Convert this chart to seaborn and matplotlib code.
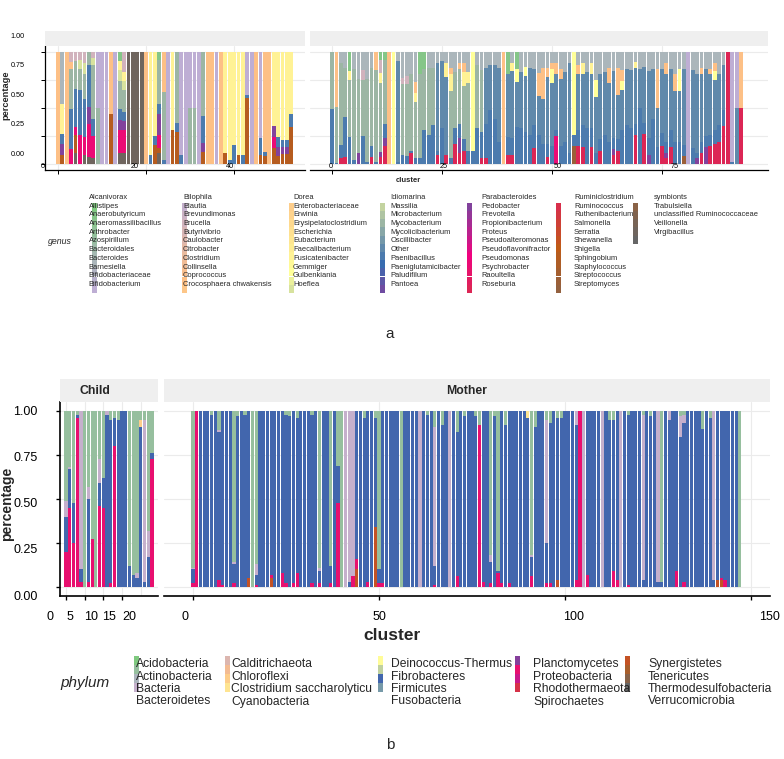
import re
import numpy as np
import pandas as pd
import matplotlib
matplotlib.use("Agg")
import matplotlib.pyplot as plt
import matplotlib.transforms as mtransforms
from matplotlib.colors import to_rgb
from matplotlib.patches import Rectangle
import seaborn as sns

sns.set_theme(style="white")
plt.rcParams["font.family"] = ["Liberation Sans", "DejaVu Sans"]

W, H = 784, 759

# ---------------- taxa ----------------
genus_names = [
    "Alcanivorax", "Allistipes", "Anaerobutyricum", "Anaeromassilibacillus", "Arthrobacter",
    "Azospirillum", "Bacteroidales", "Bacteroides", "Barnesiella", "Bifidobacteriaceae",
    "Bifidobacterium", "Bilophila", "Blautia", "Brevundimonas", "Brucella", "Butyrivibrio",
    "Caulobacter", "Citrobacter", "Clostridium", "Collinsella", "Coprococcus",
    "Crocosphaera chwakensis", "Dorea", "Enterobacteriaceae", "Erwinia",
    "Erysipelatoclostridium", "Escherichia", "Eubacterium", "Faecalibacterium",
    "Fusicatenibacter", "Gemmiger", "Gulbenkiania", "Hoeflea", "Idiomarina", "Massilia",
    "Microbacterium", "Mycobacterium", "Mycolicibacterium", "Oscillibacter", "Other",
    "Paenibacillus", "Paeniglutamicibacter", "Paludifilum", "Pantoea", "Parabacteroides",
    "Pedobacter", "Prevotella", "Propionibacterium", "Proteus", "Pseudoalteromonas",
    "Pseudoflavonifractor", "Pseudomonas", "Psychrobacter", "Raoultella", "Roseburia",
    "Ruminiclostridium", "Ruminococcus", "Ruthenibacterium", "Salmonella", "Serratia",
    "Shewanella", "Shigella", "Sphingobium", "Staphylococcus", "Streptococcus",
    "Streptomyces", "symbionts", "Trabulsiella", "unclassified Ruminococcaceae",
    "Veillonella", "Virgibacillus",
]
genus_codes = {
    "Al": "Allistipes", "An": "Anaerobutyricum", "Ba": "Bacteroides", "Bi": "Bifidobacterium",
    "Br": "Brevundimonas", "Bu": "Butyrivibrio", "Co": "Coprococcus", "Fa": "Faecalibacterium",
    "Ge": "Gemmiger", "Ho": "Hoeflea", "Mi": "Microbacterium", "Os": "Oscillibacter",
    "Ot": "Other", "Pa": "Parabacteroides", "Ps": "Pseudomonas", "Ro": "Roseburia",
    "Sh": "Shigella", "Su": "Streptococcus", "Ve": "Veillonella",
}

phylum_names = [
    "Acidobacteria", "Actinobacteria", "Bacteria", "Bacteroidetes",
    "Calditrichaeota", "Chloroflexi", "Clostridium saccharolyticu", "Cyanobacteria",
    "Deinococcus-Thermus", "Fibrobacteres", "Firmicutes", "Fusobacteria",
    "Planctomycetes", "Proteobacteria", "Rhodothermaeota", "Spirochaetes",
    "Synergistetes", "Tenericutes", "Thermodesulfobacteria", "Verrucomicrobia",
]
phylum_colors = [
    "#7fc97f", "#96bf9e", "#adb5be", "#c5b0cc",
    "#dcb6af", "#f3bb92", "#fdcd8a", "#fee491",
    "#fffc98", "#c0d1a0", "#4266ad", "#779aa9",
    "#853f9b", "#e8106f", "#c91889", "#d63148",
    "#c45224", "#a85e2c", "#876249", "#666666",
]
phylum_codes = {
    "A": "Actinobacteria", "B": "Bacteroidetes", "F": "Firmicutes", "P": "Proteobacteria",
    "S": "Synergistetes", "C": "Clostridium saccharolyticu", "Y": "Cyanobacteria",
}

# ---------------- bar compositions (percent, bottom -> top) ----------------
a_left_first = 0
a_left_bars = [
    "Co100", "Sh8 Pa10 Ot9 Fa27 Ba46", "Co100", "Ps13 Ot36 Mi36 Co6 Br9",
    "Ve10 Sh16 Ps7 Ot34 Mi25 Br8", "Ps26 Ot40 Mi19 Ho8 Br7", "Ve8 Ps16 Ot34 Mi22 Ho10 Br10",
    "Ve6 Ps30 Pa15 Ot37 Mi12", "Ve5 Ps20 Ot15 Mi48 Ho7 Br5", "Mi50 Bi50",
    "Bi100", "Bi100", "Sh45 Co55", "Bi100",
    "Ve10 Ps20 Pa9 Ot10 Mi25 Ho10 Fa8 Al8", "Ve10 Ps20 Pa8 Ot8 Mi20 Ho8 Fa8 Br18",
    "Ve100", "Ve100", "Ve100", "Ve100",
    "Co100", "Ot8 Fa92", "Sh17 Ot8 Fa75", "Ve10 Sh4 Ps12 Pa19 Ot9 Mi39 Al7",
    "Ot4 Mi60 Co36", "Bi100", "Sh30 Fa70", "Sh29 Ot8 Mi63",
    "Ot8 Bi92", "Bi100", "Mi50 Bi50", "Mi50 Bi50",
    "Bi100", "Sh11 Pa8 Ot24 Mi57", "Co100", "Co100",
    "Bi100", "Co100", "Sh10 Fa90", "Ot4 Fa96",
    "Ot17 Fa83", "Sh8 Fa92", "Ot8 Fa92", "Sh59 Ot3 Bi38",
    "Bi100", "Co100", "Sh8 Ot15 Bi77", "Sh7 Ot4 Co89",
    "Co100", "Sh14 Ps10 Pa10 Fa66", "Sh7 Pa8 Ot9 Fa76", "Sh9 Pa6 Ot6 Fa79",
    "Sh9 Pa6 Ot6 Fa79", "Sh33 Ot12 Fa55",
]
a_right_first = 0
a_right_bars = [
    "Ot49 Mi51", "Ot1 Mi50 Co49", "Ro5 Ot12 Mi73 Ba10", "Ro6 Ot36 Mi44 Ba14",
    "Ot24 Mi51 Fa8 Al17", "Ot4 Mi81 Ba15", "Pa10 Mi66 Ba24", "Ot25 Mi50 Br9 Ba16",
    "Ot2 Mi74 Ba24", "Ro6 Ot10 Mi70 Ba14", "Ot2 Mi82 Co16", "Ro6 Pa5 Mi61 Fa9 Br12 Al7",
    "Ro16 Pa7 Ot13 Mi57 Al7", "Co100", "Ge100", "Ot2 Os90 Ba8",
    "Ot8 Mi63 Br6 Ba23", "Ot7 Mi64 Br8 Ba21", "Ro10 Ot2 Mi68 Ba20", "Ot5 Mi50 Fa8 Co10 Ba27",
    "Ot5 Mi75 Al20", "Ot30 Mi55 Al15", "Ot26 Mi60 Ba14", "Ot35 Mi51 Ba14",
    "Ro8 Ot4 Os78 Ba10", "Ot32 Os60 Ba8", "Ro8 Os70 Fa12 Ba10", "Ot5 Mi60 Fa15 Co6 Ba14",
    "Ro18 Ot14 Mi50 Ba18", "Ro10 Pa13 Ot13 Mi49 Co5 Ba10", "Ro12 Ot10 Mi48 Fa12 Co8 Ba10",
    "Ot12 Mi60 Fa10 Ba18", "Ot12 Ge88", "Ot32 Mi56 Ba12", "Ro5 Ot24 Mi55 Ba16",
    "Ro5 Ot31 Os50 Ba14", "Ot48 Os40 Ba12", "Ot40 Os48 Ba12", "Ot20 Os66 Ba14", "Co100",
    "Ro8 Ot16 Os56 Al20", "Ro8 Ot15 Os60 Fa7 Ba10", "Ot33 Os40 Ge12 Al15", "Ot32 Os50 Ba18",
    "Ot29 Os50 Ge8 Ba13", "Ot26 Os60 Ba14", "Ro14 Ot21 Os50 Ba15", "Ot26 Os35 Co20 Ba19",
    "Ot18 Os40 Co28 Ba14", "Ro6 Ot12 Os60 Co8 Ba14", "Ot16 Os56 Ge13 Co5 Ba10",
    "Ps25 Ot5 Os50 Co10 Ba10", "Ot16 Os60 Co9 Ba15", "Ot20 Os62 Ba18", "Ot10 Os80 Ba10",
    "Su16 Ot10 Ge74", "Ro16 Ot14 Os50 Co8 Ba12", "Ro15 Ot20 Os45 Fa10 Ba10",
    "Ot32 Os50 Ba18", "Ro15 Ot17 Os48 Fa10 Ba10", "Ot10 Os50 Ge15 Ba25",
    "Ro12 Ot10 Os58 Ba20", "Ot26 Os56 Ba18", "Ot20 Os52 Co14 Ba14", "Pa5 Ro8 Ot10 Os60 Ba17",
    "Ro12 Ot10 Os40 Co24 Ba14", "Ot30 Os36 Ge8 Co10 Ba16", "Ot35 Os50 Ba15", "Ot32 Os52 Ba16",
    "Ro26 Ot10 Os50 Fa5 Ba9", "Ot50 Os35 Ba15", "Ro27 Ot10 Os50 Ba13", "Pa8 Ot15 Os60 Ba17",
    "Ot40 Os45 Ba15", "Ot15 Os35 Co35 Ba15", "Ro16 Ot12 Os57 Ba15", "Pa5 Ro5 Ot10 Os60 Co10 Ba10",
    "Ro15 Ot15 Os55 Ba15", "Ot20 Os45 Co15 Ba20", "Ot20 Os45 Ge20 Ba15", "Su7 Ot10 Os68 Ba15",
    "Bi100", "Ot14 Os70 Ba16", "Pa5 Ot5 Os70 Ba20", "Ro10 Ot10 Os60 Co6 Ba14",
    "Pa15 Ot10 Os60 Ba15", "Ro16 Ot10 Os54 Co5 Ba15", "Ro18 Ot12 Os45 Ge8 Co7 Ba10",
    "Ro20 Ot15 Os45 Ba20", "Ro34 Ot14 Os40 Ba12", "Ro100", "Ot2 Bi98",
    "Os50 Bi50", "Ro50 Co50",
]

b_child_first = 5
b_child_bars = [
    "P20 F20 B9 A51", "P45 F22 B1 A32", "P25 F23 A52", "P96 F2 A2",
    "P3 F7 B90", "A100", "P3 F47 B7 A43", "P27 A73",
    "A100", "P46 F13 B14 A27", "P45 F17 A38", "F98 B2",
    "P2 F93 A5", "P80 F16 A4", "F95 A5", "F100",
    "F100", "F12 A88", "F7 A93", "F5 B3 A92",
    "F91 C4 A5", "F3 B92 A5", "F17 B15 A68", "P73 F3 A24",
]
b_mother_first = 0
b_mother_bars = [
    "P2 F8 B1 A89", "P100", "F100", "F100", "F100", "F98 A2", "F100", "P4 F84 B1 A11",
    "P1 F99", "F100", "F100", "P2 F11 B1 A86", "F97 A3", "F100", "F98 A2", "S5 F95",
    "A100", "P1 F6 B6 A87", "F100", "F100", "F100", "S5 P2 F93", "F100", "F100",
    "P8 F92", "P2 F96 A2", "F97 A3", "P2 F98", "P8 F88 A4", "F100", "F100", "F100",
    "P2 F96 A2", "F100", "P2 F7 B2 A89", "F100", "F100", "P2 F10 A88", "F100", "P48 F21 A31",
    "A100", "B100", "F3 B97", "P6 B94", "S10 P6 F84", "F100", "F96 A4", "P3 F97",
    "F100", "S34 F62 A4", "P2 F8 A90", "P2 F98", "F100", "F100", "F100", "F100",
    "A100", "F100", "F100", "F100", "F100", "B100", "F100", "F98 A2",
    "F100", "P1 F11 B79 A9", "F100", "F92 A8", "F100", "B100", "F100", "P6 F82 A12",
    "F100", "F97 A3", "F100", "F100", "F97 A3", "P92 A8", "P3 F97", "F100",
    "P2 F12 B4 A82", "F97 A3", "P8 F1 A91", "P2 F98", "F92 A8", "P2 F98", "F100", "F100",
    "F100", "F100", "F96 Y4", "P6 F11 B1 A82", "F91 A9", "F100", "F100", "P2 F23 B70 A5",
    "P2 F91 A7", "F100", "S4 F92 A4", "F96 A4", "F100", "F100", "F100", "P4 F88 B8",
    "P100", "B100", "P7 F93", "F100", "F100", "F100", "B100", "F100",
    "F95 A5", "P9 F86 A5", "P4 F96", "B100", "F100", "P1 F97 A2", "F100", "F100",
    "F100", "F4 B94 A2", "F100", "F97 A3", "F100", "F3 B97", "F3 A97", "F100",
    "F95 B5", "F100", "P9 F91", "F85 B12 A3", "P3 F90 B5 A2", "F100", "F100", "F100",
    "F100", "F90 A10", "F100", "F96 A4", "F4 B96", "S4 F96", "S4 P1 F95", "P4 F96",
    "F100", "F100", "F100", "A100",
]

accent = ["#7FC97F", "#BEAED4", "#FDC086", "#FFFF99", "#386CB0", "#F0027F", "#BF5B17", "#666666"]


def accent_ramp(n):
    anchors = np.array([to_rgb(c) for c in accent])
    t = np.linspace(0, len(accent) - 1, n)
    idx = np.arange(len(accent))
    return [tuple(v) for v in np.column_stack([np.interp(t, idx, anchors[:, k]) for k in range(3)])]


genus_colors = accent_ramp(len(genus_names))


def long_table(bars, first, codes):
    rows = []
    for i, s in enumerate(bars):
        for code, pct in re.findall(r"([A-Za-z]+)(\d+)", s):
            rows.append((first + i, codes[code], float(pct)))
    df = pd.DataFrame(rows, columns=["cluster", "taxon", "pct"])
    df["pct"] = df["pct"] / df.groupby("cluster")["pct"].transform("sum")
    return df


fig = plt.figure(figsize=(W / 100, H / 100), dpi=100)


def px_axes(x0, y0, x1, y1):
    return fig.add_axes([x0 / W, 1 - y1 / H, (x1 - x0) / W, (y1 - y0) / H])


def shift(trans, dx, dy):
    return trans + mtransforms.ScaledTranslation(dx / 100, -dy / 100, fig.dpi_scale_trans)


def ftext(x, y, s, **kw):
    fig.text(x / W, 1 - y / H, s, **kw)


def frect(x0, y0, w, h, color):
    fig.add_artist(Rectangle((x0 / W, 1 - (y0 + h) / H), w / W, h / H,
                             transform=fig.transFigure, facecolor=color, edgecolor="none"))


def draw_facet(ax, df, order, colors, xlim, ylim, xticks, lw):
    sns.histplot(data=df, x="cluster", weights="pct", hue="taxon", hue_order=order,
                 palette=dict(zip(order, colors)), multiple="stack", discrete=True,
                 shrink=0.86, linewidth=0, alpha=1, legend=False, ax=ax)
    ax.set_xlim(*xlim)
    ax.set_ylim(*ylim)
    ax.set_xlabel("")
    ax.set_ylabel("")
    ax.set_xticks(xticks)
    ax.set_yticks([0, 0.25, 0.5, 0.75, 1.0])
    ax.grid(True, color="#ebebeb", linewidth=0.8)
    ax.set_axisbelow(True)
    for side in ["top", "right", "left"]:
        ax.spines[side].set_visible(False)
    ax.spines["bottom"].set_color("black")
    ax.spines["bottom"].set_linewidth(lw)
    ax.tick_params(axis="x", bottom=True, length=3, width=lw * 0.8, color="black",
                   labelbottom=False)
    ax.tick_params(axis="y", left=False, labelleft=False)


def x_labels(ax, ticks, labels, offsets, dy, size):
    tr = mtransforms.blended_transform_factory(ax.transData, ax.transAxes)
    for t, s, dx in zip(ticks, labels, offsets):
        ax.text(t, 0, s, transform=shift(tr, dx, dy), ha="center", va="center",
                fontsize=size, color="black")


def y_labels(ax, dx, offsets, size, lw):
    ax.spines["left"].set_visible(True)
    ax.spines["left"].set_color("black")
    ax.spines["left"].set_linewidth(lw)
    ax.tick_params(axis="y", left=True, length=3, width=lw * 0.8, color="black")
    tr = mtransforms.blended_transform_factory(ax.transAxes, ax.transData)
    for v, dy in zip([0, 0.25, 0.5, 0.75, 1.0], offsets):
        ax.text(0, v, f"{v:.2f}", transform=shift(tr, dx, dy), ha="right", va="center",
                fontsize=size, color="black")


# ================= panel a =================
df_al = long_table(a_left_bars, a_left_first, genus_codes)
df_ar = long_table(a_right_bars, a_right_first, genus_codes)

frect(45, 31, 260, 15.4, "#efefef")
frect(310, 31, 458, 15.4, "#efefef")

ax_al = px_axes(45, 46.4, 305, 169.6)
draw_facet(ax_al, df_al, genus_names, genus_colors, (-2.95, 56.1), (-0.05, 1.05), [0, 20, 40], 0.9)
y_labels(ax_al, -20, [-10, -11.3, -12.7, -14.3, -16], 5.2, 0.9)
x_labels(ax_al, [0, 20, 40], ["0", "20", "40"], [-15, -11, -4], -3.5, 5.2)

ax_ar = px_axes(310, 46.4, 768, 169.6)
draw_facet(ax_ar, df_ar, genus_names, genus_colors, (-5, 99.1), (-0.05, 1.05), [0, 25, 50, 75], 0.9)
x_labels(ax_ar, [0, 25, 50, 75], ["0", "25", "50", "75"], [-1, 2, 6, 13], -3.5, 5.2)

ftext(5.5, 95, "percentage", rotation=90, ha="center", va="center", fontsize=6.7, fontweight="bold")
ftext(408, 181, "cluster", ha="center", va="center", fontsize=5.5, fontweight="bold")

# genus legend
ftext(60, 241, "genus", ha="center", va="center", fontsize=6.3, style="italic")
a_lab_x = [88.5, 183, 293, 390.5, 481, 574, 654]
a_sw_x = [92, 182, 289, 380, 467, 556, 633]
for c in range(7):
    names = genus_names[c * 11:(c + 1) * 11]
    for r, name in enumerate(names):
        frect(a_sw_x[c], 202.7 + 8.2 * r, 4.5, 8.2, genus_colors[c * 11 + r])
    for r, name in enumerate(names):
        ftext(a_lab_x[c], 197.3 + 8.74 * r, name, ha="left", va="center", fontsize=5.4)

ftext(390, 334, "a", ha="center", va="center", fontsize=11)

# ================= panel b =================
df_bc = long_table(b_child_bars, b_child_first, phylum_codes)
df_bm = long_table(b_mother_bars, b_mother_first, phylum_codes)

frect(60, 379, 97.5, 23, "#efefef")
frect(164, 379, 606, 23, "#efefef")
ftext(95, 391, "Child", ha="center", va="center", fontsize=8.8, fontweight="bold")
ftext(467, 391, "Mother", ha="center", va="center", fontsize=8.8, fontweight="bold")

ax_bc = px_axes(60, 402.2, 157.5, 595.8)
draw_facet(ax_bc, df_bc, phylum_names, phylum_colors, (3.4, 29.5), (-0.05, 1.05),
           [5, 10, 15, 20, 25], 1.2)
ax_bc.xaxis.get_major_ticks()[-1].tick1line.set_visible(False)
y_labels(ax_bc, -22.5, [10, 7, 5, 3, 1], 9, 1.2)
x_labels(ax_bc, [0, 5, 10, 15, 20], ["0", "5", "10", "15", "20"], [3, 4, 6, 6, 7], 21.7, 9)

ax_bm = px_axes(164, 402.2, 770, 595.8)
draw_facet(ax_bm, df_bm, phylum_names, phylum_colors, (-7.8, 155.1), (-0.05, 1.05),
           [0, 50, 100, 150], 1.2)
x_labels(ax_bm, [0, 50, 100, 150], ["0", "50", "100", "150"], [-8, 0, 9, 18], 21.7, 9)

ftext(7.5, 504, "percentage", rotation=90, ha="center", va="center", fontsize=10, fontweight="bold")
ftext(392, 636, "cluster", ha="center", va="center", fontsize=12.5, fontweight="bold")

# phylum legend
ftext(85, 683, "phylum", ha="center", va="center", fontsize=11, style="italic")
b_lab_x = [136, 231, 391, 533, 648]
b_sw_x = [134, 225, 378, 515, 625]
b_rows = [664, 676.5, 689, 701.5]
for c in range(5):
    for r in range(4):
        frect(b_sw_x[c], 656 + 9 * r, 4.5, 9, phylum_colors[c * 4 + r])
    for r in range(4):
        ftext(b_lab_x[c], b_rows[r], phylum_names[c * 4 + r], ha="left", va="center", fontsize=8.7)

ftext(390, 745, "b", ha="center", va="center", fontsize=11)

fig.savefig("out.png", dpi=100, facecolor="white")
